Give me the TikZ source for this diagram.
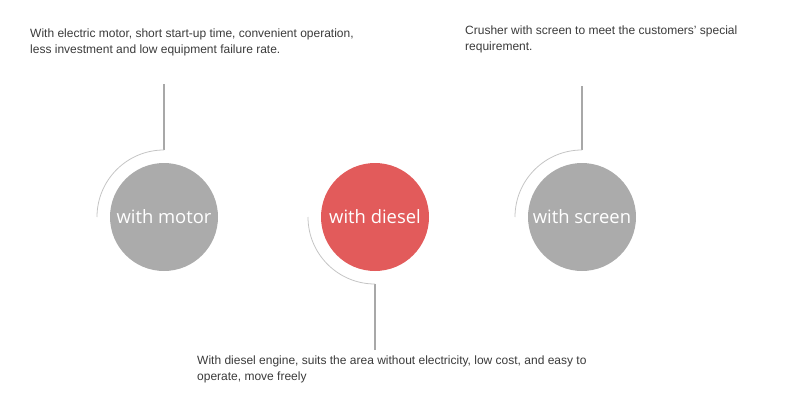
\documentclass[tikz,border=0pt]{standalone}
\usepackage{fontspec}
\setmainfont{Liberation Sans}
\newfontfamily\ballfont{Open Sans}
\usepackage{tikz}
\definecolor{ballgrey}{HTML}{ABABAB}
\definecolor{ballred}{HTML}{E25B5B}
\definecolor{stemgrey}{HTML}{A8A8A8}
\definecolor{hookgrey}{HTML}{C4C4C4}
\definecolor{notegrey}{HTML}{3A3A3A}
\tikzstyle{ball} = [circle, minimum size=108pt, inner sep=0pt, text=white, font=\ballfont\fontsize{18.4}{20}\selectfont]
\tikzstyle{greyball} = [ball, fill=ballgrey]
\tikzstyle{redball} = [ball, fill=ballred]
\tikzstyle{stem} = [draw=stemgrey, line width=1.5pt]
\tikzstyle{hook} = [draw=hookgrey, line width=0.8pt]
\tikzstyle{note} = [anchor=north west, inner sep=0pt, align=left, text=notegrey, font=\fontsize{12}{15.5}\selectfont]
\newcommand{\desc}[1]{#1}

\begin{document}
\begin{tikzpicture}[x=1pt, y=1pt]
\useasboundingbox (0,0) rectangle (800,400);

% the three balls
\node [greyball] (motor) at (164,183) {\raisebox{-1.5pt}{with motor}};
\node [redball] (diesel) at (375,183) {\raisebox{-1.5pt}{with diesel}};
\node [greyball] (screen) at (582,183) {\raisebox{-1.5pt}{with screen}};

% notes
\node [note] (motornote) at (30,371) {\desc{With electric motor, short start-up time, convenient operation,\\less investment and low equipment failure rate.}};
\node [note] (screennote) at (465,374) {\desc{Crusher with screen to meet the customers' special\\requirement.}};
\node [note] (dieselnote) at (197,44) {\desc{With diesel engine, suits the area without electricity, low cost, and easy to\\operate, move freely}};

% stems
\coordinate (motortop) at (164,316);
\coordinate (motorbend) at ([yshift=67pt]motor.center);
\coordinate (screentop) at (582,314);
\coordinate (screenbend) at ([yshift=67pt]screen.center);
\coordinate (dieselfoot) at (375,50);
\coordinate (dieselbend) at ([yshift=-67pt]diesel.center);

\draw [stem] (motortop) -- (motorbend);
\draw [hook] (motorbend) arc (90:180:67pt);
\draw [stem] (screentop) -- (screenbend);
\draw [hook] (screenbend) arc (90:180:67pt);
\draw [stem] (dieselfoot) -- (dieselbend);
\draw [hook] (dieselbend) arc (270:180:67pt);
\end{tikzpicture}
\end{document}
